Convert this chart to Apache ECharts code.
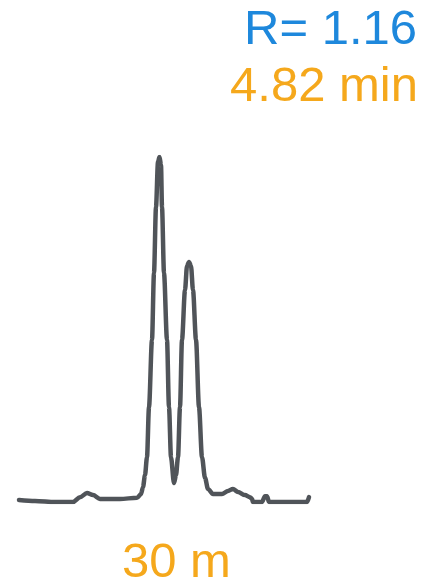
<!DOCTYPE html>
<html>
<head>
<meta charset="utf-8">
<script src="https://cdn.jsdelivr.net/npm/echarts@6/dist/echarts.min.js"></script>
<style>
html,body{margin:0;padding:0;background:#fff;}
#chart{width:426px;height:587px;}
</style>
</head>
<body>
<div id="chart"></div>
<script>
// Chromatogram trace (time in arbitrary units, signal in % of the tallest peak)
const time = [0, 1.6, 3.6, 5.4, 6.1, 6.8, 7.4, 8.1, 10.1, 11.8, 12.2, 12.4, 12.6, 12.8, 13.0, 13.3, 13.5, 13.7, 13.9, 14.05, 14.2, 14.3, 14.5, 14.8, 15.0, 15.2, 15.5, 15.7, 15.9, 16.1, 16.3, 16.6, 16.8, 17.0, 17.2, 17.4, 17.7, 18.0, 18.3, 18.6, 18.9, 19.4, 20.3, 20.9, 21.4, 21.9, 22.6, 23.1, 23.3, 23.4, 24.3, 24.6, 24.8, 25.0, 27.1, 28.8, 29.0];
const signal = [0.6, 0.3, 0, 0, 1.4, 2.6, 2.0, 0.9, 0.9, 1.2, 2.3, 4.3, 7.8, 13.0, 27.5, 47.0, 66.4, 85.5, 98.6, 100, 97.7, 85.5, 66.4, 47.0, 27.5, 13.0, 5.5, 7.8, 13.0, 27.5, 47.0, 61.4, 68.4, 69.6, 68.4, 61.4, 47.0, 27.5, 13.0, 7.0, 3.8, 2.3, 2.3, 3.2, 3.8, 2.9, 2.0, 1.4, 0.9, 0, 0, 1.7, 1.7, 0, 0, 0, 1.4];
const resolutionLabel = "R= 1.16";
const timeLabel = "4.82 min";
const columnLabel = "30 m";

const chart = echarts.init(document.getElementById('chart'), null, {renderer: 'canvas'});
const font = "'Liberation Sans', Arial, sans-serif";
chart.setOption({
  animation: false,
  backgroundColor: '#ffffff',
  grid: {left: 19, top: 157, width: 290, height: 345, containLabel: false},
  xAxis: {type: 'value', min: 0, max: 29, show: false},
  yAxis: {type: 'value', min: 0, max: 100, show: false},
  series: [{
    type: 'line',
    data: time.map((t, i) => [t, signal[i]]),
    showSymbol: false,
    smooth: 0.3,
    smoothMonotone: 'x',
    lineStyle: {color: '#505459', width: 4.5, cap: 'round', join: 'round'}
  }],
  graphic: [
    {type: 'text', right: 9, top: 6, style: {text: resolutionLabel, fill: '#1e88dc', font: '49px ' + font}},
    {type: 'text', right: 8, top: 63, style: {text: timeLabel, fill: '#f5a81c', font: '49px ' + font}},
    {type: 'text', left: 122, top: 539, style: {text: columnLabel, fill: '#f5a81c', font: '49px ' + font}}
  ]
});
</script>
</body>
</html>
